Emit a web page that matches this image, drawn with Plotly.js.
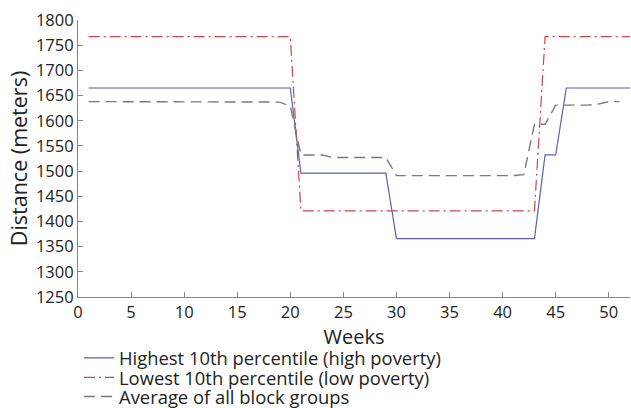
<!DOCTYPE html>
<html>
<head>
<meta charset="utf-8">
<script src="https://cdn.plot.ly/plotly-3.0.1.min.js"></script>
<style>html,body{margin:0;padding:0;background:#fff;}#chart{width:631px;height:408px;}</style>
</head>
<body>
<div id="chart"></div>
<script>
// Weeks 1..52
var weeks = [1,2,3,4,5,6,7,8,9,10,11,12,13,14,15,16,17,18,19,20,21,22,23,24,25,26,27,28,29,30,31,32,33,34,35,36,37,38,39,40,41,42,43,44,45,46,47,48,49,50,51,52];

// Highest 10th percentile (high poverty)
var highPoverty = [1665,1665,1665,1665,1665,1665,1665,1665,1665,1665,1665,1665,1665,1665,1665,1665,1665,1665,1665,1665,
  1496,1496,1496,1496,1496,1496,1496,1496,1496,
  1366,1366,1366,1366,1366,1366,1366,1366,1366,1366,1366,1366,1366,1366,
  1532,1532,
  1665,1665,1665,1665,1665,1665,1665];

// Lowest 10th percentile (low poverty)
var lowPoverty = [1767,1767,1767,1767,1767,1767,1767,1767,1767,1767,1767,1767,1767,1767,1767,1767,1767,1767,1767,1767,
  1421,1421,1421,1421,1421,1421,1421,1421,1421,1421,1421,1421,1421,1421,1421,1421,1421,1421,1421,1421,1421,1421,1421,
  1767,1767,1767,1767,1767,1767,1767,1767,1767];

// Average of all block groups
var average = [1638,1638,1638,1638,1638,1638,1638,1638,1638,1638,1638,1638,1638,1638,1638,1638,1638,1638,1637,1629,
  1532,1532,1532,1527,1527,1527,1527,1527,1527,
  1491,1491,1491,1491,1491,1491,1491,1491,1491,1491,1491,1491,1493,
  1593,1593,
  1631,1631,1631,1631,1633,1638,1638];

var names = ['Highest 10th percentile (high poverty)','Lowest 10th percentile (low poverty)','Average of all block groups'];

var FONT = 'Open Sans, sans-serif';

var traces = [
  {x: weeks, y: highPoverty, name: names[0], type: 'scatter', mode: 'lines',
   line: {color: '#5a5fb2', width: 1.2}, legend: 'legend'},
  {x: weeks, y: lowPoverty, name: names[1], type: 'scatter', mode: 'lines',
   line: {color: '#d0444f', width: 1.2, dash: '11px,4px,2px,4px'}, legend: 'legend2'},
  {x: weeks, y: average, name: names[2], type: 'scatter', mode: 'lines',
   line: {color: '#7a7a7a', width: 1.4, dash: '11px,6px'}, legend: 'legend3'}
];

// plot area: left 78px, width 552px; top 20px, height 277px
function leg(pxY) {
  return {x: (79 - 78) / 552, y: (297 - pxY) / 277, xref: 'paper', yref: 'paper', xanchor: 'left', yanchor: 'middle',
    bgcolor: 'rgba(0,0,0,0)', borderwidth: 0, font: {family: FONT, size: 18.4, color: '#222'}, itemwidth: 30};
}

var layout = {
  width: 631, height: 408,
  margin: {l: 78, r: 1, t: 20, b: 111, autoexpand: false},
  paper_bgcolor: '#fff', plot_bgcolor: '#fff',
  font: {family: FONT, color: '#222'},
  showlegend: true,
  legend: leg(358),
  legend2: leg(377.5),
  legend3: leg(396.5),
  xaxis: {
    range: [0, 52], tickmode: 'linear', tick0: 0, dtick: 5,
    showgrid: false, zeroline: false, showline: true, linecolor: '#888', linewidth: 1,
    ticks: 'inside', ticklen: 5, tickcolor: '#888',
    tickfont: {family: FONT, size: 16.5, color: '#222'},
    title: {text: 'Weeks', font: {family: FONT, size: 20, color: '#222'}, standoff: 0}
  },
  yaxis: {
    range: [1250, 1800], tickmode: 'linear', tick0: 1250, dtick: 50,
    showgrid: false, zeroline: false, showline: true, linecolor: '#888', linewidth: 1,
    ticks: 'inside', ticklen: 5, tickcolor: '#888',
    tickfont: {family: FONT, size: 16.5, color: '#222'},
    title: {text: 'Distance (meters)', font: {family: FONT, size: 21.5, color: '#222'}, standoff: 2}
  }
};

Plotly.newPlot('chart', traces, layout, {displayModeBar: false, staticPlot: true});
</script>
</body>
</html>
